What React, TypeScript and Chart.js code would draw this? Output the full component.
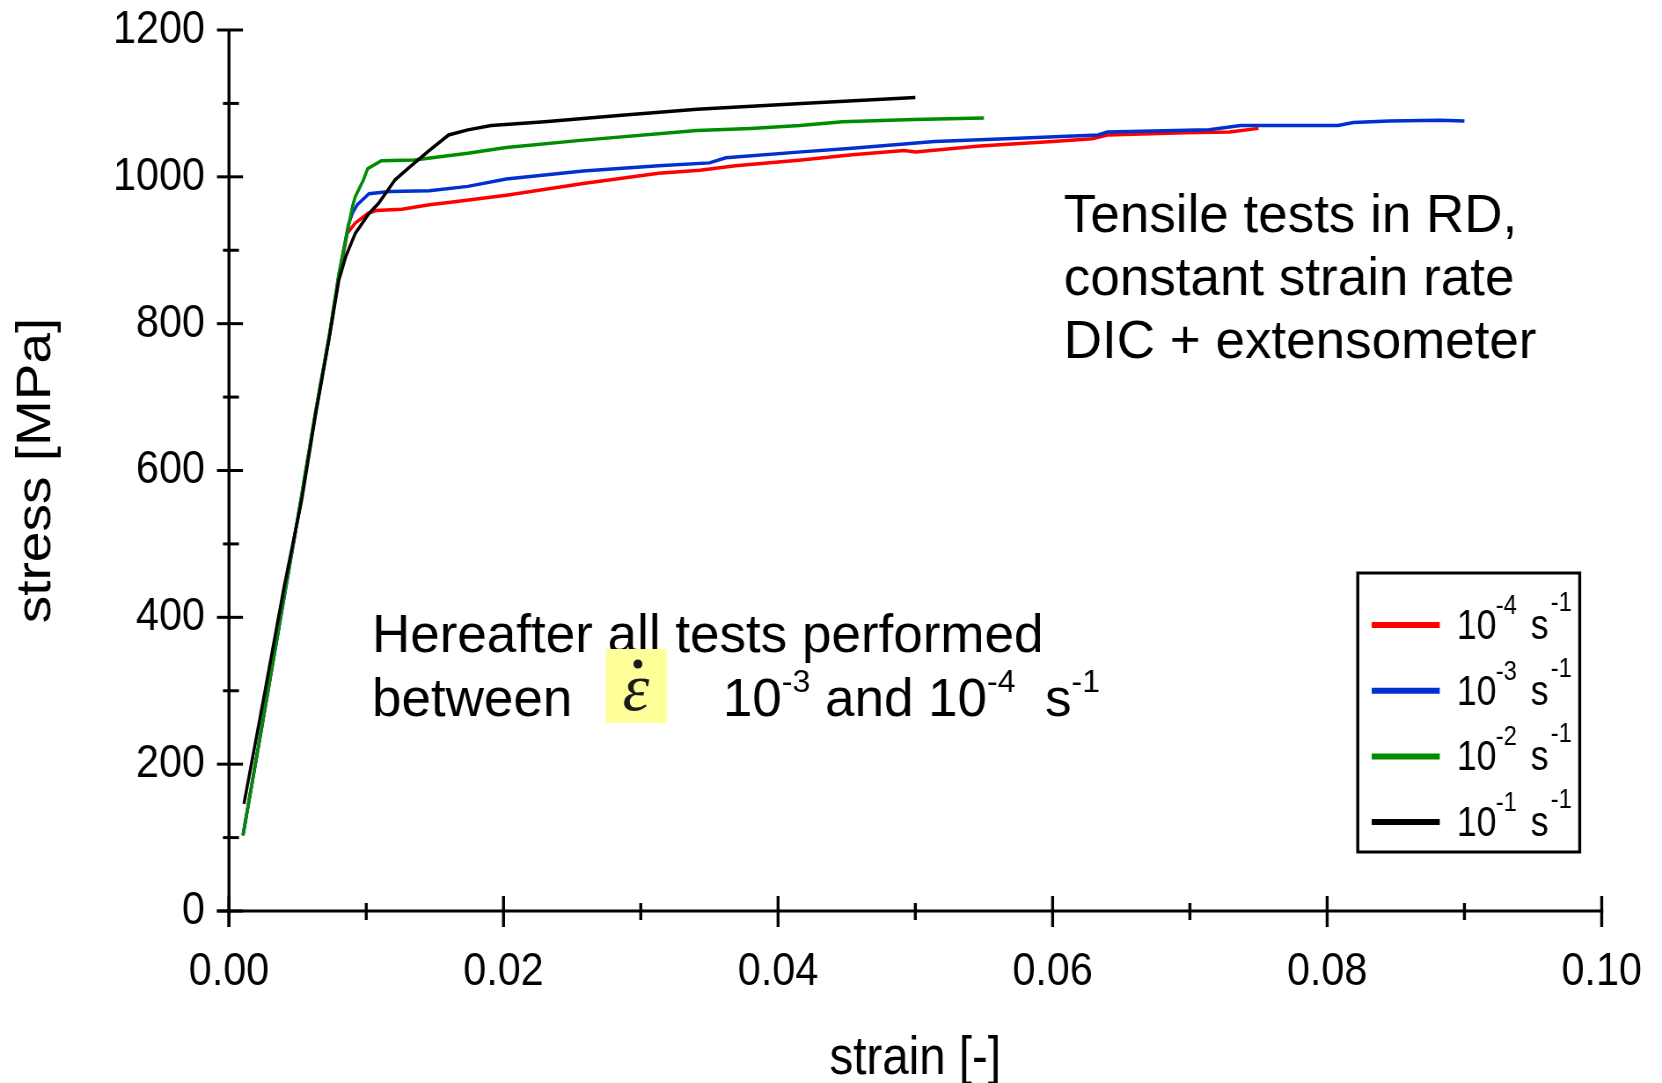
import React, { useEffect, useRef } from 'react';
import { Chart, registerables } from 'chart.js';

Chart.register(...registerables);

// ---------- data ----------
const strainRed = [0.00102, 0.0025, 0.004, 0.0052, 0.0063, 0.0073, 0.008, 0.00862, 0.0092, 0.0101, 0.0107, 0.0126, 0.0146, 0.016, 0.0202, 0.0258, 0.0313, 0.0343, 0.0369, 0.0417, 0.0454, 0.0492, 0.05, 0.0547, 0.06, 0.0629, 0.064, 0.0696, 0.0729, 0.075];
const stressRed = [103, 262, 425, 555, 678, 782, 862, 923, 937, 950, 954, 956, 962, 965, 975, 991, 1005, 1009, 1015, 1023, 1030, 1036, 1034, 1042, 1048, 1052, 1057, 1060, 1061, 1066];

const strainBlue = [0.00102, 0.0025, 0.004, 0.0052, 0.0063, 0.0073, 0.008, 0.0087, 0.00903, 0.00935, 0.0102, 0.0117, 0.0146, 0.0174, 0.0202, 0.0258, 0.0313, 0.035, 0.0362, 0.0417, 0.0454, 0.0514, 0.0566, 0.0633, 0.064, 0.0714, 0.0737, 0.0808, 0.0819, 0.0845, 0.0882, 0.09];
const stressBlue = [103, 262, 425, 555, 678, 782, 866, 935, 952, 962, 977, 980, 981, 987, 997, 1008, 1015, 1019, 1026, 1034, 1039, 1048, 1052, 1057, 1061, 1064, 1070, 1070, 1074, 1076, 1077, 1076];

const strainGreen = [0.00102, 0.0025, 0.004, 0.0052, 0.0063, 0.0073, 0.008, 0.009, 0.0092, 0.0098, 0.0101, 0.0111, 0.0135, 0.0174, 0.0202, 0.0258, 0.0341, 0.038, 0.0416, 0.0447, 0.0499, 0.055];
const stressGreen = [103, 263, 427, 557, 680, 784, 868, 960, 973, 996, 1011, 1022, 1023, 1032, 1040, 1050, 1063, 1066, 1070, 1075, 1078, 1080];

const strainBlack = [0.00109, 0.0025, 0.004, 0.0053, 0.0063, 0.0073, 0.008, 0.0085, 0.0092, 0.0102, 0.0109, 0.0121, 0.0132, 0.0146, 0.016, 0.0174, 0.0191, 0.023, 0.0286, 0.0341, 0.0417, 0.05];
const stressBlack = [146, 287, 440, 560, 675, 780, 859, 891, 923, 950, 964, 996, 1014, 1036, 1057, 1064, 1070, 1075, 1084, 1092, 1100, 1108];

const rateExponents = ['-4', '-3', '-2', '-1'];
const seriesColors = ['#ff0000', '#0030d0', '#008c00', '#000000'];
const drawOrder = [3, 2, 1, 0]; // black on top, red at the bottom

const xMin = 0, xMax = 0.1, xMajor = 0.02, xMinorCount = 10;
const yMin = 0, yMax = 1200, yMajor = 200, yMinor = 100;

const xTitle = 'strain [-]';
const yTitle = 'stress [MPa]';
const noteTopLines = ['Tensile tests in RD,', 'constant strain rate', 'DIC + extensometer'];
const noteBottomLine1 = 'Hereafter all tests performed';
const noteBottomWord = 'between';

// ---------- layout ----------
const W = 1662, H = 1083, SX = 0.88;
const IW = Math.round(W / SX);
const PLOT_L = 229, PLOT_R = 1602, PLOT_T = 30, PLOT_B = 911;
const FONT = '"Liberation Sans", Arial, sans-serif';

function drawText(ctx: CanvasRenderingContext2D, t: string, x: number, y: number, font: string, hs = 1) {
  ctx.save();
  ctx.translate(x, y);
  ctx.scale(hs, 1);
  ctx.font = font;
  ctx.fillText(t, 0, 0);
  ctx.restore();
}

const overlayPlugin = {
  id: 'overlay',
  afterDraw(chart: any) {
    const ctx: CanvasRenderingContext2D = chart.ctx;
    const xs = chart.scales.x, ys = chart.scales.y;
    ctx.save();
    ctx.scale(1 / SX, 1); // work in displayed (full) coordinates
    const fx = (v: number) => xs.getPixelForValue(v) * SX;
    const fy = (v: number) => ys.getPixelForValue(v);
    const line = (a: number, b: number, c: number, d: number) => {
      ctx.beginPath(); ctx.moveTo(a, b); ctx.lineTo(c, d); ctx.stroke();
    };
    ctx.strokeStyle = '#000';
    ctx.lineWidth = 3;
    ctx.lineCap = 'butt';
    const x0 = fx(xMin), x1 = fx(xMax), y0 = fy(yMin), y1 = fy(yMax);
    line(x0, y1, x0, y0 + 16);
    line(x0 - 12, y0, x1 + 1.5, y0);
    for (let v = yMin; v <= yMax; v += yMinor) {
      const y = fy(v);
      if (v % yMajor === 0) line(x0 - 12, y, x0 + 14, y);
      else line(x0 - 6, y, x0 + 10, y);
    }
    for (let i = 0; i <= xMinorCount; i++) {
      const v = xMin + (xMax - xMin) * i / xMinorCount;
      const x = fx(v);
      if (i % 2 === 0) line(x, y0 - 15, x, y0 + 16);
      else line(x, y0 - 8, x, y0 + 9);
    }

    // annotations
    ctx.fillStyle = '#000';
    ctx.textBaseline = 'alphabetic';
    ctx.textAlign = 'left';
    const noteFont = `53px ${FONT}`;
    noteTopLines.forEach((t, i) => drawText(ctx, t, 1064, 232 + i * 63, noteFont));
    drawText(ctx, noteBottomLine1, 372, 652, noteFont);
    drawText(ctx, noteBottomWord, 372, 716, noteFont);
    ctx.fillStyle = '#ffff99';
    ctx.fillRect(606, 649, 61, 74);
    ctx.fillStyle = '#1a1a1a';
    ctx.textAlign = 'center';
    drawText(ctx, 'ε', 636, 710, `italic 68px "Liberation Serif", "DejaVu Serif", serif`);
    ctx.beginPath(); ctx.arc(638, 664, 4.5, 0, Math.PI * 2); ctx.fill();
    ctx.textAlign = 'left';
    ctx.fillStyle = '#000';
    const supFont = `32px ${FONT}`;
    let cx = 723;
    const seg = (t: string, sup: boolean) => {
      ctx.font = sup ? supFont : noteFont;
      const w = ctx.measureText(t).width;
      ctx.fillText(t, cx, sup ? 692 : 716);
      cx += w;
    };
    seg('10', false); seg('-3', true); seg(' and 10', false); seg('-4', true); seg('  s', false); seg('-1', true);

    // legend
    ctx.fillStyle = '#fff';
    ctx.fillRect(1358, 573, 222, 279);
    ctx.lineWidth = 3;
    ctx.strokeStyle = '#000';
    ctx.strokeRect(1358, 573, 222, 279);
    rateExponents.forEach((e, i) => {
      const ly = 625 + i * 65.7;
      ctx.strokeStyle = seriesColors[i];
      ctx.lineWidth = 6;
      line(1372, ly, 1440, ly);
      ctx.fillStyle = '#000';
      drawText(ctx, '10', 1457, ly + 14, `42px ${FONT}`, 0.85);
      drawText(ctx, e, 1496, ly - 11, `28px ${FONT}`, 0.85);
      drawText(ctx, 's', 1531, ly + 14, `42px ${FONT}`, 0.85);
      drawText(ctx, '-1', 1551, ly - 14, `28px ${FONT}`, 0.85);
    });
    ctx.restore();
  },
};

const seriesStrains = [strainRed, strainBlue, strainGreen, strainBlack];
const seriesStresses = [stressRed, stressBlue, stressGreen, stressBlack];

export default function App() {
  const ref = useRef<HTMLCanvasElement | null>(null);
  useEffect(() => {
    if (!ref.current) return;
    const datasets = seriesStrains.map((xs, i) => ({
      label: `10^${rateExponents[i]} s^-1`,
      data: xs.map((x, j) => ({ x, y: seriesStresses[i][j] })),
      borderColor: seriesColors[i],
      backgroundColor: seriesColors[i],
      borderWidth: 3.5,
      pointRadius: 0,
      showLine: true,
      fill: false,
      tension: 0,
      order: drawOrder[i],
    }));
    const chart = new Chart(ref.current, {
      type: 'scatter',
      data: { datasets },
      options: {
        animation: false,
        responsive: false,
        devicePixelRatio: 1,
        events: [],
        layout: { padding: { left: 0, right: IW - PLOT_R / SX, top: PLOT_T, bottom: 0 } },
        plugins: { legend: { display: false }, tooltip: { enabled: false } },
        scales: {
          x: {
            type: 'linear',
            position: 'bottom',
            min: xMin,
            max: xMax,
            afterFit: (s: any) => { s.height = H - PLOT_B; s.paddingLeft = 0; s.paddingRight = 0; },
            grid: { display: false, drawTicks: false },
            border: { display: false },
            ticks: {
              stepSize: xMajor,
              padding: 38,
              color: '#000',
              autoSkip: false,
              maxRotation: 0,
              font: { family: FONT, size: 47, lineHeight: 1 },
              callback: (v: any) => Number(v).toFixed(2),
            },
            title: {
              display: true,
              text: xTitle,
              color: '#000',
              font: { family: FONT, size: 54, lineHeight: 1 },
              padding: { top: 0, bottom: -3 },
            },
          },
          y: {
            type: 'linear',
            min: yMin,
            max: yMax,
            afterFit: (s: any) => { s.width = PLOT_L / SX; s.paddingTop = 0; s.paddingBottom = 0; },
            grid: { display: false, drawTicks: false },
            border: { display: false },
            ticks: {
              stepSize: yMajor,
              padding: 24 / SX,
              color: '#000',
              font: { family: FONT, size: 47, lineHeight: 1 },
              callback: (v: any) => String(v),
            },
            title: {
              display: true,
              text: yTitle,
              color: '#000',
              font: { family: FONT, size: 55, lineHeight: 1 },
              padding: { top: 14.5, bottom: 0 },
            },
          },
        },
      },
      plugins: [overlayPlugin],
    } as any);
    return () => chart.destroy();
  }, []);
  return (
    <div style={{ position: 'absolute', left: 0, top: 0, width: W, height: H, background: '#fff' }}>
      <canvas ref={ref} width={IW} height={H} style={{ width: `${W}px`, height: `${H}px`, display: 'block' }} />
    </div>
  );
}
